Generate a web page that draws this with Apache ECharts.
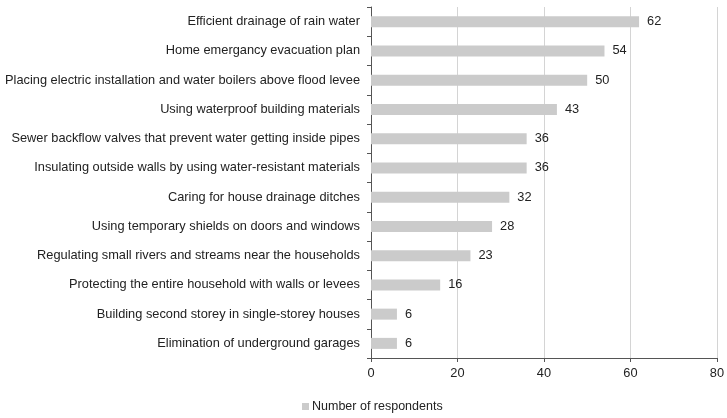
<!DOCTYPE html>
<html><head><meta charset="utf-8">
<script src="https://cdn.jsdelivr.net/npm/echarts@6/dist/echarts.min.js"></script>
<style>html,body{margin:0;padding:0;background:#fff}#c{width:727px;height:418px}</style>
</head><body><div id="c"></div>
<script>
const categories = [
  "Efficient drainage of rain water",
  "Home emergancy evacuation plan",
  "Placing electric installation and water boilers above flood levee",
  "Using waterproof building materials",
  "Sewer backflow valves that prevent water getting inside pipes",
  "Insulating outside walls by using water-resistant materials",
  "Caring for house drainage ditches",
  "Using temporary shields on doors and windows",
  "Regulating small rivers and streams near the households",
  "Protecting the entire household with walls or levees",
  "Building second storey in single-storey houses",
  "Elimination of underground garages"
];
const values = [62, 54, 50, 43, 36, 36, 32, 28, 23, 16, 6, 6];
const seriesName = "Number of respondents";
const xTicks = [0, 20, 40, 60, 80];

const chart = echarts.init(document.getElementById('c'), null, {renderer: 'canvas'});
const font = 'Liberation Sans, Arial, sans-serif';
chart.setOption({
  animation: false,
  textStyle: {fontFamily: font},
  grid: {left: 371, right: 7, top: 7, bottom: 60, containLabel: false},
  legend: {
    bottom: 0, left: 297,
    data: [seriesName],
    itemWidth: 7, itemHeight: 7, itemGap: 4,
    icon: 'rect',
    textStyle: {fontSize: 12.5, color: '#222', fontFamily: font, padding: [0,0,0,-2]}
  },
  xAxis: {
    type: 'value', min: xTicks[0], max: xTicks[xTicks.length - 1], interval: 20,
    axisLine: {show: true, lineStyle: {color: '#555', width: 1}},
    axisTick: {show: true, length: 4, lineStyle: {color: '#555'}},
    axisLabel: {fontSize: 12.8, color: '#222', margin: 9, fontFamily: font},
    splitLine: {show: true, lineStyle: {color: '#d4d4d4', width: 1}}
  },
  yAxis: {
    type: 'category', data: categories.slice().reverse(), inverse: false,
    axisLine: {show: true, lineStyle: {color: '#555', width: 1}},
    axisTick: {show: true, length: 4, lineStyle: {color: '#555'}},
    axisLabel: {fontSize: 12.8, color: '#222', margin: 11, fontFamily: font}
  },
  series: [{
    name: seriesName, type: 'bar',
    data: values.slice().reverse(),
    barWidth: 11,
    itemStyle: {color: '#cbcbcb'},
    label: {show: true, position: 'right', distance: 8, fontSize: 12.8, color: '#222', fontFamily: font}
  }]
});
</script></body></html>
